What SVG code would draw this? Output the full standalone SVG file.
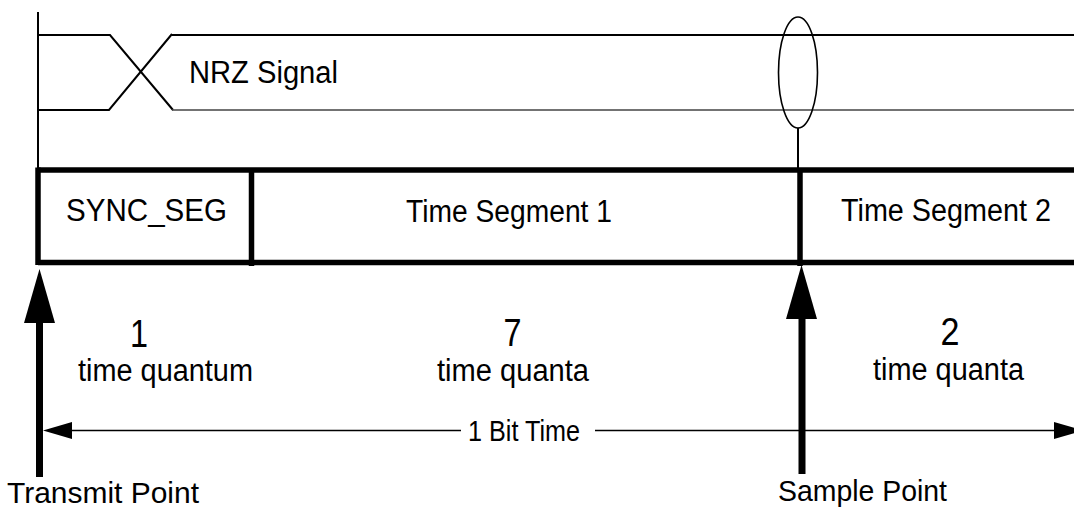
<svg xmlns="http://www.w3.org/2000/svg" width="1074" height="507" viewBox="0 0 1074 507">
  <style>
    text { font-family: "Liberation Sans", Arial, sans-serif; fill: #000; }
    .lbl { font-size: 31px; }
    .num { font-size: 38px; }
    .thin { stroke: #000; stroke-width: 2; fill: none; }
    .gray { stroke: #444; stroke-width: 1.5; fill: none; }
    .thick { stroke: #000; stroke-width: 5.5; fill: none; }
    .dim { stroke: #000; stroke-width: 1.6; fill: none; }
  </style>
  <rect width="1074" height="507" fill="#fff"/>

  <g id="nrz-signal">
    <line class="thin" x1="38" y1="12" x2="38" y2="170"/>
    <polyline class="thin" points="38,35 110,35 173,110"/>
    <polyline class="thin" points="38,110 109,110 172,34"/>
    <line class="thin" x1="172" y1="35" x2="1074" y2="35"/>
    <line class="gray" x1="172" y1="110" x2="1074" y2="110"/>
    <text class="lbl" x="189" y="83" textLength="149" lengthAdjust="spacingAndGlyphs">NRZ Signal</text>
  </g>

  <g id="sample-marker">
    <ellipse cx="798" cy="72.5" rx="19.5" ry="55.5" fill="none" stroke="#000" stroke-width="1.6"/>
    <line class="thin" x1="798" y1="128" x2="798" y2="168"/>
  </g>

  <g id="bit-frame">
    <line class="thick" x1="38" y1="170" x2="1074" y2="170"/>
    <line class="thick" x1="38" y1="262.5" x2="1074" y2="262.5"/>
    <line class="thick" x1="38" y1="167.5" x2="38" y2="265"/>
  </g>

  <g id="sync-seg">
    <line class="thick" x1="251.5" y1="170" x2="251.5" y2="266"/>
    <text class="lbl" x="66" y="221" textLength="161" lengthAdjust="spacingAndGlyphs">SYNC_SEG</text>
    <text class="num" x="139" y="347" text-anchor="middle" textLength="18" lengthAdjust="spacingAndGlyphs">1</text>
    <text class="lbl" x="78" y="381" textLength="175" lengthAdjust="spacingAndGlyphs">time quantum</text>
  </g>

  <g id="time-segment-1">
    <text class="lbl" x="406" y="222" textLength="206" lengthAdjust="spacingAndGlyphs">Time Segment 1</text>
    <text class="num" x="512.5" y="346" text-anchor="middle" textLength="18" lengthAdjust="spacingAndGlyphs">7</text>
    <text class="lbl" x="437" y="381" textLength="152" lengthAdjust="spacingAndGlyphs">time quanta</text>
  </g>

  <g id="time-segment-2">
    <line class="thick" x1="800" y1="170" x2="800" y2="266"/>
    <text class="lbl" x="841" y="221" textLength="210" lengthAdjust="spacingAndGlyphs">Time Segment 2</text>
    <text class="num" x="950" y="345" text-anchor="middle" textLength="19" lengthAdjust="spacingAndGlyphs">2</text>
    <text class="lbl" x="873" y="380" textLength="151" lengthAdjust="spacingAndGlyphs">time quanta</text>
  </g>

  <g id="transmit-point">
    <text x="7" y="503" textLength="192" lengthAdjust="spacingAndGlyphs" style="font-size:30px">Transmit Point</text>
  </g>

  <g id="sample-point">
    <text x="778" y="501" textLength="169" lengthAdjust="spacingAndGlyphs" style="font-size:30px">Sample Point</text>
  </g>

  <g id="connectors">
    <rect x="36" y="320" width="7" height="157" fill="#000"/>
    <polygon points="39.5,269 24,323 55,323" fill="#000"/>
    <rect x="798.5" y="316" width="7" height="158" fill="#000"/>
    <polygon points="801.5,265 786,319 817,319" fill="#000"/>
    <line class="dim" x1="70" y1="430.5" x2="461" y2="430.5"/>
    <line class="dim" x1="595" y1="430.5" x2="1056" y2="430.5"/>
    <polygon points="43,430.5 72,422 72,439" fill="#000"/>
    <polygon points="1054,422 1054,439 1083,430.5" fill="#000"/>
    <text x="468" y="441" textLength="112" lengthAdjust="spacingAndGlyphs" style="font-size:29px">1 Bit Time</text>
  </g>
</svg>
